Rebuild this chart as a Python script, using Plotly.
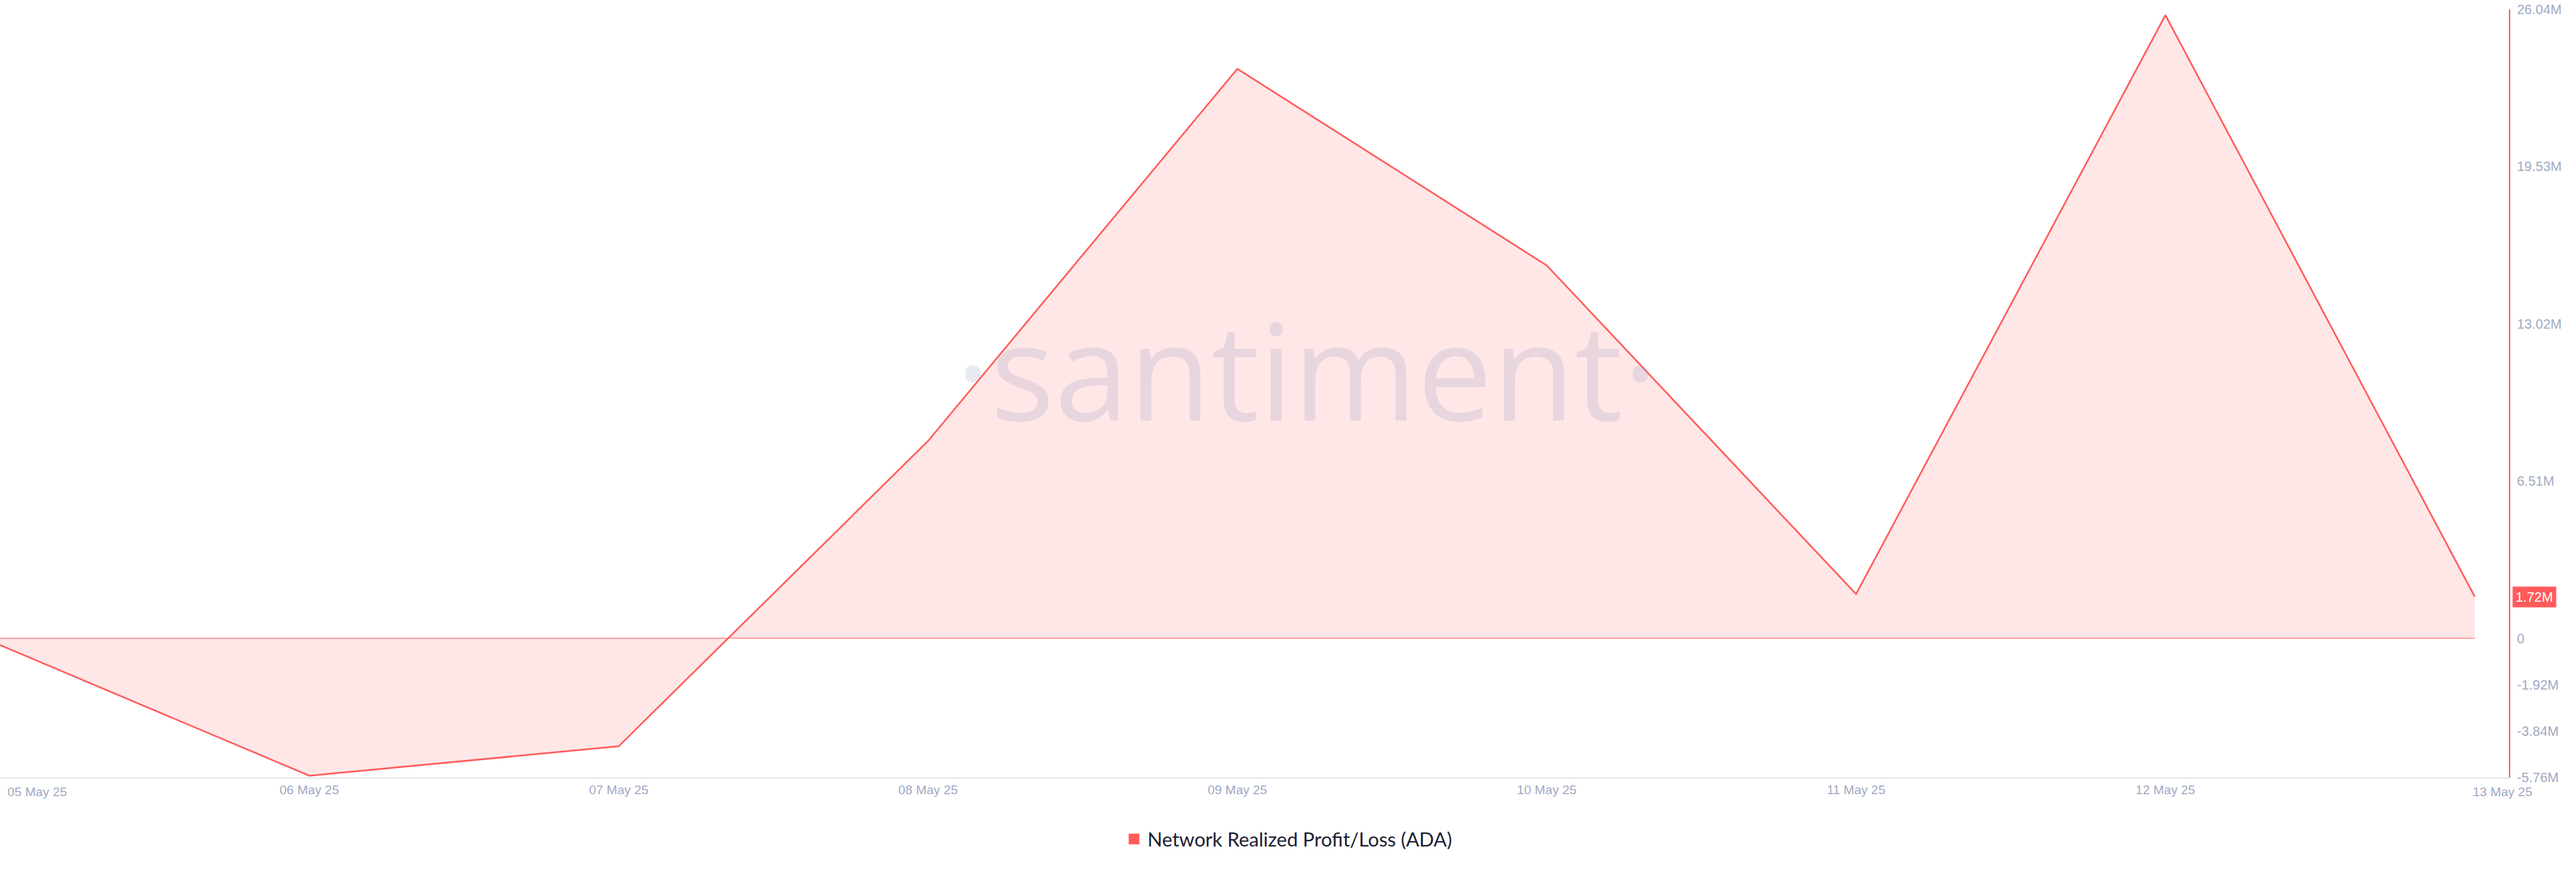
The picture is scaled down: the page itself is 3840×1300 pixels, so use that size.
import plotly.graph_objects as go

dates = ["2025-05-05", "2025-05-06", "2025-05-07", "2025-05-08", "2025-05-09",
         "2025-05-10", "2025-05-11", "2025-05-12", "2025-05-13"]
date_labels = ["05 May 25", "06 May 25", "07 May 25", "08 May 25", "09 May 25",
               "10 May 25", "11 May 25", "12 May 25", "13 May 25"]
nrpl_ada = [-0.28e6, -5.69e6, -4.47e6, 8.17e6, 23.58e6, 15.44e6, 1.83e6, 25.80e6, 1.72e6]
baseline = [0, 0, 0, 0, 0, 0, 0, 0, 0]

y_tickvals = [26.04e6, 19.53e6, 13.02e6, 6.51e6, 0, -1.92e6, -3.84e6, -5.76e6]
y_ticktext = ["26.04M", "19.53M", "13.02M", "6.51M", "0", "-1.92M", "-3.84M", "-5.76M"]
series_name = "Network Realized Profit/Loss (ADA)"

RED = "#ff5b5b"
GRAY = "#9fa9c3"

fig = go.Figure()
fig.add_trace(go.Scatter(
    x=dates, y=nrpl_ada, mode="lines", fill="tozeroy",
    fillcolor="rgba(255,91,91,0.15)", line=dict(color=RED, width=2.5),
    showlegend=False, hoverinfo="skip"))
fig.add_trace(go.Scatter(
    x=dates, y=baseline, mode="lines",
    line=dict(color="rgba(255,91,91,0.7)", width=1.5),
    showlegend=False, hoverinfo="skip"))
fig.add_trace(go.Scatter(
    x=[None], y=[None], mode="markers", name=series_name,
    marker=dict(symbol="square", size=18, color=RED)))

annotations = [
    dict(text="·santiment·", xref="paper", yref="paper", x=0.5206, y=0.532,
         xanchor="center", yanchor="middle", showarrow=False,
         font=dict(family="Open Sans, sans-serif", size=200,
                   color="rgba(140,150,190,0.2)")),
    dict(text=date_labels[0], xref="x", yref="paper", x=dates[0], y=0,
         xanchor="left", yanchor="middle", xshift=9, yshift=-21, showarrow=False,
         font=dict(family="Liberation Sans, Arial, sans-serif", size=19, color=GRAY)),
    dict(text=date_labels[-1], xref="x", yref="paper", x=dates[-1], y=0,
         xanchor="center", yanchor="middle", xshift=41, yshift=-21, showarrow=False,
         font=dict(family="Liberation Sans, Arial, sans-serif", size=19, color=GRAY)),
    dict(text="%.2fM" % (nrpl_ada[-1] / 1e6), xref="paper", yref="y", x=1, y=nrpl_ada[-1],
         xanchor="left", yanchor="middle", xshift=5, showarrow=False,
         bgcolor=RED, borderpad=4,
         font=dict(family="Liberation Sans, Arial, sans-serif", size=20, color="white")),
]

fig.update_layout(
    width=3840, height=1300,
    margin=dict(l=0, r=100, t=14, b=141),
    paper_bgcolor="white", plot_bgcolor="white",
    showlegend=True,
    legend=dict(orientation="h", xref="container", yref="container",
                x=0.5, y=0.0377, xanchor="center", yanchor="middle",
                font=dict(family="Lato, Noto Sans, sans-serif", size=29, color="#1b2032"),
                itemsizing="trace"),
    annotations=annotations,
)
fig.update_xaxes(
    type="date", range=["2025-05-05 00:00", "2025-05-13 02:39"],
    tickvals=dates[1:-1], ticktext=date_labels[1:-1],
    showgrid=False, zeroline=False, showline=True, linecolor="#e3e7ef", linewidth=2,
    ticks="", tickfont=dict(family="Liberation Sans, Arial, sans-serif", size=19, color=GRAY),
)
fig.update_yaxes(
    range=[-5.76e6, 26.04e6], side="right",
    tickvals=y_tickvals, ticktext=y_ticktext,
    showgrid=False, zeroline=False, showline=True, linecolor=RED, linewidth=2,
    ticks="", ticklabelstandoff=6,
    tickfont=dict(family="Liberation Sans, Arial, sans-serif", size=20, color=GRAY),
)

fig.write_html("out.html", config={"displayModeBar": False},
               post_script="document.body.style.margin='0px';")
